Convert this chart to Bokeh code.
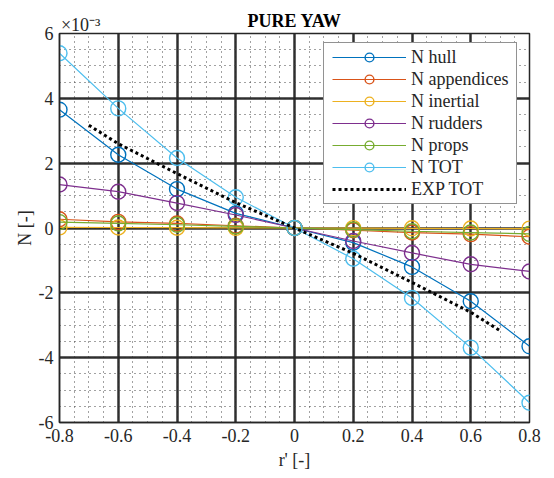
from bokeh.plotting import figure
from bokeh.models import FixedTicker, Legend, LegendItem, LinearAxis
from bokeh.embed import file_html
from bokeh.resources import INLINE

r_vals = [-0.8, -0.6, -0.4, -0.2, 0.0, 0.2, 0.4, 0.6, 0.8]
n_hull = [3.65, 2.26, 1.20, 0.45, 0.0, -0.45, -1.20, -2.26, -3.65]
n_appendices = [0.27, 0.19, 0.14, 0.07, 0.0, -0.07, -0.14, -0.19, -0.27]
n_inertial = [0.02, 0.015, 0.01, 0.005, 0.0, -0.005, -0.01, -0.015, -0.02]
n_rudders = [1.34, 1.12, 0.77, 0.40, 0.0, -0.40, -0.77, -1.12, -1.34]
n_props = [0.18, 0.14, 0.10, 0.05, 0.0, -0.05, -0.10, -0.14, -0.18]
n_tot = [5.39, 3.69, 2.16, 0.95, 0.0, -0.95, -2.16, -3.69, -5.39]
exp_r = [-0.7, -0.6, -0.4, -0.2, 0.0, 0.2, 0.4, 0.6, 0.7]
exp_tot = [3.17, 2.60, 1.68, 0.78, 0.0, -0.78, -1.68, -2.60, -3.17]

x_ticks = [-0.8, -0.6, -0.4, -0.2, 0.0, 0.2, 0.4, 0.6, 0.8]
x_tick_labels = ["-0.8", "-0.6", "-0.4", "-0.2", "0", "0.2", "0.4", "0.6", "0.8"]
y_ticks = [-6, -4, -2, 0, 2, 4, 6]
y_tick_labels = ["-6", "-4", "-2", "0", "2", "4", "6"]
title_text = "PURE YAW"
exponent_text = "×10⁻³"

FONT = "Liberation Serif"

p = figure(width=554, height=478, x_range=(-0.8, 0.8), y_range=(-6, 6),
           output_backend="svg", toolbar_location=None,
           min_border_left=59, min_border_right=25, min_border_top=33, min_border_bottom=56)
p.background_fill_color = "white"
p.border_fill_color = "white"
p.outline_line_color = "#262626"
p.outline_line_width = 1.5

xax = p.xaxis[0]
yax = p.yaxis[0]

xminor = [round(-0.8 + 0.05 * i, 3) for i in range(33)]
yminor = [-6 + 0.5 * i for i in range(25)]
xax.ticker = FixedTicker(ticks=x_ticks, minor_ticks=xminor)
yax.ticker = FixedTicker(ticks=y_ticks, minor_ticks=yminor)
xax.major_label_overrides = {t: l for t, l in zip(x_ticks, x_tick_labels)}
yax.major_label_overrides = {t: l for t, l in zip(y_ticks, y_tick_labels)}

# top axis: title as its (bold) tick label, exponent marker as its axis label,
# padded on the right with no-break spaces so that it sits at the left corner
title_pos = 0.0
pad = "\u00a0" * 95
top = LinearAxis(ticker=FixedTicker(ticks=[title_pos]),
                 major_label_overrides={title_pos: title_text},
                 axis_label=exponent_text + pad)
p.add_layout(top, "above")

for ax in (xax, yax, top):
    ax.axis_line_color = "#262626"
    ax.axis_line_width = 1.5
    ax.major_tick_in = 0
    ax.major_tick_out = 0
    ax.minor_tick_in = 0
    ax.minor_tick_out = 0
    ax.major_label_text_font = FONT
    ax.major_label_text_font_size = "18px"
    ax.major_label_text_color = "#262626"
    ax.axis_label_text_font = FONT
    ax.axis_label_text_font_size = "18px"
    ax.axis_label_text_font_style = "normal"
    ax.axis_label_text_color = "#262626"

top.axis_line_color = None
top.major_label_text_font_style = "bold"
top.major_label_text_color = "black"
top.major_label_standoff = 3
top.axis_label_standoff = -27

xax.axis_label = "r' [-]"
yax.axis_label = "N [-]"
xax.major_label_standoff = 6
yax.major_label_standoff = 6
xax.axis_label_standoff = 5
yax.axis_label_standoff = 1

for g in (p.xgrid[0], p.ygrid[0]):
    g.grid_line_color = "#262626"
    g.grid_line_width = 2.5
    g.grid_line_alpha = 0.95
    g.minor_grid_line_color = "#444444"
    g.minor_grid_line_dash = "1 4"
    g.minor_grid_line_width = 1

colors = ["#0072BD", "#D95319", "#EDB120", "#7E2F8E", "#77AC30", "#4DBEEE"]
names = ["N hull", "N appendices", "N inertial", "N rudders", "N props", "N TOT"]
series = [n_hull, n_appendices, n_inertial, n_rudders, n_props, n_tot]

items = []
for name, c, ys in zip(names, colors, series):
    l = p.line(r_vals, ys, line_color=c, line_width=1.2)
    s = p.scatter(r_vals, ys, marker="circle", size=15, fill_color=None,
                  line_color=c, line_width=1.4)
    items.append(LegendItem(label=name, renderers=[l, s]))

le = p.line(exp_r, exp_tot, line_color="black", line_width=3, line_dash="3 3")
items.append(LegendItem(label="EXP TOT", renderers=[le]))

legend = Legend(items=items, location=(264, 218), glyph_width=74, glyph_height=22,
                label_height=22, spacing=0, padding=(8, 3), label_standoff=5,
                label_text_font=FONT, label_text_font_size="18px",
                label_text_color="#262626",
                border_line_color="#262626", border_line_width=1,
                background_fill_color="white", background_fill_alpha=1.0)
p.add_layout(legend, "center")

open("out.html", "w").write(file_html(p, INLINE))
